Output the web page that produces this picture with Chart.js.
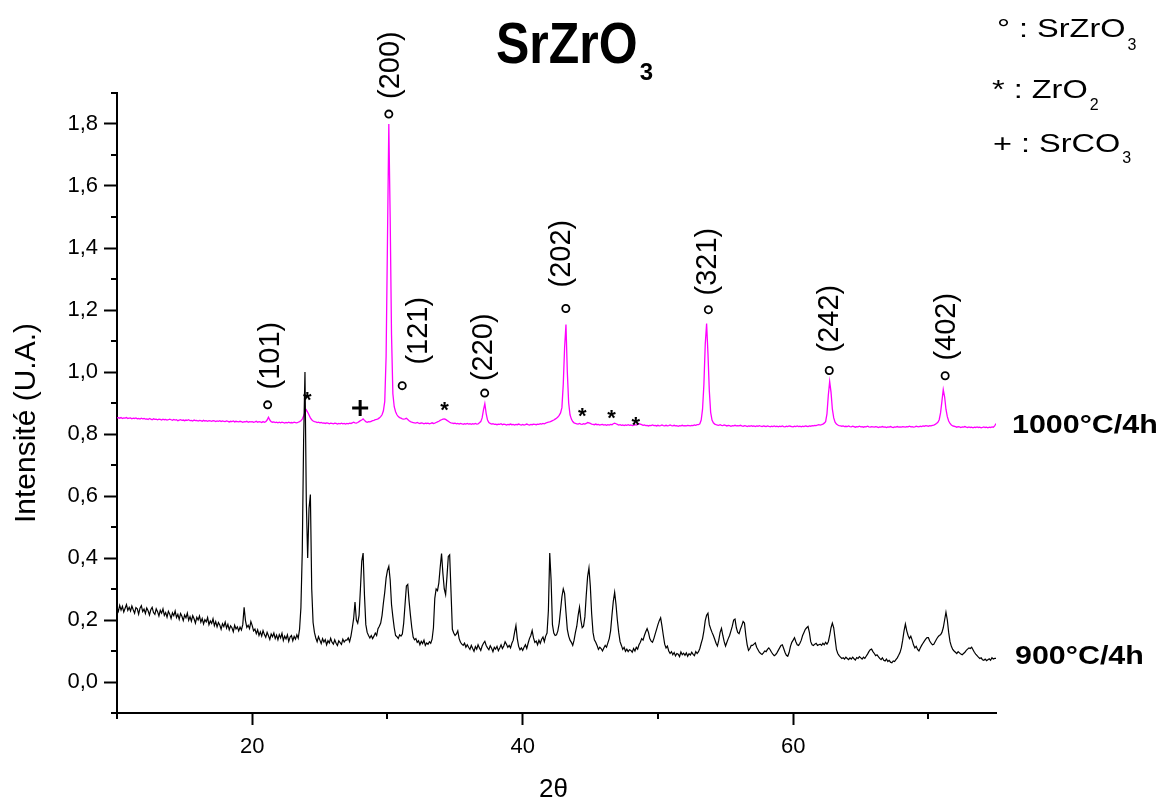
<!DOCTYPE html>
<html lang="fr">
<head>
<meta charset="UTF-8" />
<title>SrZrO3 - DRX</title>
<script src="https://cdn.jsdelivr.net/npm/chart.js"></script>
<style>
  html, body { margin: 0; padding: 0; background: #fff; }
  #wrap { width: 1169px; height: 805px; }
</style>
</head>
<body>
<div id="wrap"><canvas id="xrdChart" width="1169" height="805"></canvas></div>
<script>
// 2θ grid of both scans (degrees)
const angleStart = 10;
const angleStep = 0.1;

// 900°C/4h scan, one row per degree (10.0 ... 10.9, 11.0 ...)
const intensity900 = [
  0.240, 0.228, 0.247, 0.232, 0.244, 0.226, 0.238, 0.250, 0.231, 0.241,
  0.229, 0.245, 0.233, 0.222, 0.240, 0.236, 0.219, 0.238, 0.246, 0.227,
  0.235, 0.221, 0.239, 0.230, 0.216, 0.233, 0.241, 0.224, 0.218, 0.236,
  0.227, 0.213, 0.231, 0.222, 0.236, 0.215, 0.224, 0.209, 0.228, 0.219,
  0.205, 0.223, 0.214, 0.229, 0.208, 0.218, 0.202, 0.221, 0.212, 0.198,
  0.216, 0.207, 0.222, 0.199, 0.211, 0.196, 0.214, 0.204, 0.190, 0.209,
  0.200, 0.213, 0.193, 0.205, 0.187, 0.201, 0.194, 0.208, 0.185, 0.197,
  0.189, 0.204, 0.182, 0.195, 0.178, 0.192, 0.184, 0.170, 0.188, 0.179,
  0.193, 0.174, 0.186, 0.168, 0.181, 0.175, 0.162, 0.183, 0.171, 0.178,
  0.165, 0.177, 0.168, 0.185, 0.241, 0.198, 0.176, 0.183, 0.172, 0.195,
  0.182, 0.165, 0.171, 0.156, 0.168, 0.150, 0.162, 0.148, 0.166, 0.153,
  0.144, 0.160, 0.149, 0.137, 0.155, 0.146, 0.158, 0.140, 0.151, 0.136,
  0.153, 0.142, 0.157, 0.134, 0.148, 0.139, 0.152, 0.131, 0.145, 0.150,
  0.133, 0.147, 0.138, 0.152, 0.141, 0.170, 0.240, 0.420, 0.780, 1.000,
  0.580, 0.400, 0.560, 0.605, 0.300, 0.192, 0.160, 0.142, 0.130, 0.146,
  0.135, 0.124, 0.140, 0.129, 0.137, 0.120, 0.133, 0.126, 0.141, 0.128,
  0.122, 0.136, 0.125, 0.118, 0.133, 0.127, 0.121, 0.138, 0.129, 0.135,
  0.135, 0.142, 0.130, 0.148, 0.175, 0.205, 0.258, 0.200, 0.190, 0.215,
  0.300, 0.390, 0.416, 0.280, 0.185, 0.160, 0.150, 0.142, 0.150, 0.140,
  0.148, 0.158, 0.150, 0.172, 0.180, 0.190, 0.215, 0.255, 0.290, 0.335,
  0.360, 0.373, 0.330, 0.250, 0.210, 0.175, 0.150, 0.146, 0.140, 0.152,
  0.148, 0.155, 0.190, 0.250, 0.310, 0.315, 0.260, 0.215, 0.175, 0.145,
  0.136, 0.140, 0.128, 0.133, 0.120, 0.131, 0.124, 0.135, 0.118, 0.126,
  0.122, 0.130, 0.125, 0.138, 0.175, 0.270, 0.300, 0.295, 0.320, 0.370,
  0.414, 0.350, 0.300, 0.282, 0.340, 0.405, 0.410, 0.290, 0.170, 0.158,
  0.150, 0.155, 0.165, 0.140, 0.128, 0.122, 0.118, 0.125, 0.112, 0.120,
  0.112, 0.105, 0.118, 0.108, 0.099, 0.114, 0.106, 0.120, 0.110, 0.102,
  0.116, 0.125, 0.131, 0.118, 0.110, 0.104, 0.117, 0.109, 0.098, 0.112,
  0.106, 0.115, 0.101, 0.110, 0.120, 0.108, 0.116, 0.130, 0.122, 0.112,
  0.118, 0.110, 0.125, 0.135, 0.160, 0.182, 0.140, 0.115, 0.104, 0.110,
  0.102, 0.112, 0.120, 0.108, 0.125, 0.140, 0.150, 0.166, 0.142, 0.128,
  0.132, 0.120, 0.135, 0.125, 0.138, 0.145, 0.130, 0.148, 0.158, 0.230,
  0.416, 0.330, 0.185, 0.158, 0.150, 0.152, 0.165, 0.190, 0.232, 0.275,
  0.300, 0.285, 0.225, 0.170, 0.148, 0.135, 0.128, 0.118, 0.135, 0.160,
  0.180, 0.215, 0.241, 0.200, 0.175, 0.180, 0.210, 0.280, 0.340, 0.368,
  0.310, 0.220, 0.160, 0.136, 0.128, 0.118, 0.105, 0.112, 0.108, 0.100,
  0.110, 0.118, 0.112, 0.126, 0.140, 0.165, 0.215, 0.260, 0.289, 0.250,
  0.200, 0.160, 0.130, 0.118, 0.105, 0.112, 0.099, 0.106, 0.098, 0.104,
  0.102, 0.096, 0.108, 0.100, 0.112, 0.106, 0.120, 0.128, 0.140, 0.135,
  0.150, 0.162, 0.172, 0.160, 0.140, 0.132, 0.128, 0.140, 0.155, 0.170,
  0.185, 0.198, 0.207, 0.180, 0.150, 0.122, 0.110, 0.116, 0.100, 0.092,
  0.098, 0.088, 0.095, 0.084, 0.092, 0.090, 0.082, 0.097, 0.088, 0.093,
  0.086, 0.094, 0.083, 0.091, 0.087, 0.096, 0.089, 0.085, 0.098, 0.092,
  0.098, 0.108, 0.125, 0.140, 0.165, 0.198, 0.215, 0.222, 0.185, 0.172,
  0.160, 0.150, 0.138, 0.125, 0.116, 0.135, 0.160, 0.173, 0.150, 0.130,
  0.116, 0.128, 0.140, 0.150, 0.165, 0.180, 0.200, 0.203, 0.175, 0.160,
  0.156, 0.170, 0.182, 0.195, 0.190, 0.150, 0.120, 0.102, 0.108, 0.118,
  0.118, 0.122, 0.126, 0.112, 0.104, 0.096, 0.092, 0.089, 0.094, 0.100,
  0.098, 0.105, 0.110, 0.104, 0.096, 0.090, 0.085, 0.088, 0.094, 0.102,
  0.110, 0.118, 0.120, 0.108, 0.095, 0.086, 0.083, 0.095, 0.115, 0.128,
  0.135, 0.143, 0.130, 0.120, 0.118, 0.125, 0.135, 0.150, 0.160, 0.170,
  0.175, 0.179, 0.160, 0.130, 0.120, 0.118, 0.122, 0.125, 0.118, 0.120,
  0.122, 0.118, 0.125, 0.120, 0.128, 0.122, 0.130, 0.150, 0.175, 0.190,
  0.175, 0.140, 0.105, 0.092, 0.085, 0.080, 0.076, 0.078, 0.074, 0.080,
  0.076, 0.072, 0.078, 0.074, 0.080, 0.075, 0.071, 0.079, 0.076, 0.082,
  0.078, 0.074, 0.080, 0.076, 0.083, 0.090, 0.098, 0.104, 0.106, 0.098,
  0.092, 0.085, 0.088, 0.082, 0.076, 0.072, 0.078, 0.070, 0.068, 0.074,
  0.066, 0.070, 0.064, 0.062, 0.068, 0.066, 0.072, 0.078, 0.086, 0.095,
  0.110, 0.135, 0.165, 0.187, 0.165, 0.150, 0.140, 0.148, 0.135, 0.120,
  0.110, 0.115, 0.105, 0.100, 0.110, 0.118, 0.125, 0.132, 0.138, 0.143,
  0.143, 0.132, 0.125, 0.120, 0.122, 0.130, 0.138, 0.145, 0.150, 0.152,
  0.160, 0.175, 0.200, 0.225, 0.200, 0.160, 0.130, 0.115, 0.105, 0.100,
  0.096, 0.092, 0.098, 0.094, 0.090, 0.088, 0.092, 0.096, 0.102, 0.106,
  0.110, 0.108, 0.112, 0.104, 0.096, 0.090, 0.085, 0.080, 0.076, 0.078,
  0.072, 0.070, 0.074, 0.069, 0.072, 0.075, 0.070, 0.078, 0.074, 0.076,
  0.076
];

// 1000°C/4h scan, same grid
const intensity1000 = [
  0.852, 0.853, 0.851, 0.853, 0.850, 0.852, 0.851, 0.853, 0.850, 0.851,
  0.852, 0.849, 0.851, 0.850, 0.852, 0.849, 0.850, 0.848, 0.851, 0.849,
  0.850, 0.848, 0.849, 0.847, 0.850, 0.848, 0.846, 0.849, 0.847, 0.848,
  0.846, 0.848, 0.847, 0.845, 0.848, 0.846, 0.847, 0.845, 0.846, 0.848,
  0.846, 0.844, 0.847, 0.845, 0.846, 0.843, 0.845, 0.846, 0.844, 0.845,
  0.843, 0.845, 0.844, 0.846, 0.843, 0.844, 0.842, 0.845, 0.843, 0.844,
  0.842, 0.844, 0.843, 0.841, 0.844, 0.842, 0.843, 0.841, 0.843, 0.842,
  0.841, 0.843, 0.842, 0.840, 0.842, 0.841, 0.843, 0.840, 0.842, 0.841,
  0.840, 0.842, 0.841, 0.839, 0.841, 0.840, 0.842, 0.839, 0.841, 0.840,
  0.839, 0.841, 0.840, 0.838, 0.840, 0.839, 0.841, 0.838, 0.840, 0.839,
  0.840, 0.838, 0.839, 0.841, 0.838, 0.840, 0.839, 0.837, 0.840, 0.838,
  0.840, 0.845, 0.854, 0.845, 0.840, 0.838, 0.839, 0.837, 0.838, 0.836,
  0.838, 0.836, 0.838, 0.837, 0.835, 0.837, 0.836, 0.838, 0.836, 0.837,
  0.836, 0.838, 0.837, 0.836, 0.838, 0.840, 0.843, 0.848, 0.858, 0.870,
  0.878, 0.870, 0.861, 0.852, 0.846, 0.842, 0.840, 0.839, 0.837, 0.838,
  0.836, 0.837, 0.835, 0.836, 0.834, 0.836, 0.835, 0.833, 0.835, 0.834,
  0.833, 0.835, 0.834, 0.832, 0.834, 0.833, 0.835, 0.833, 0.834, 0.832,
  0.834, 0.833, 0.835, 0.834, 0.836, 0.838, 0.836, 0.835, 0.837, 0.840,
  0.843, 0.845, 0.849, 0.844, 0.840, 0.838, 0.840, 0.839, 0.841, 0.843,
  0.844, 0.846, 0.847, 0.849, 0.852, 0.856, 0.862, 0.875, 0.905, 1.050,
  1.420, 1.800, 1.500, 1.120, 0.930, 0.888, 0.872, 0.862, 0.856, 0.853,
  0.851, 0.849, 0.848, 0.849, 0.851, 0.847, 0.843, 0.840, 0.838, 0.837,
  0.836, 0.835, 0.837, 0.835, 0.834, 0.836, 0.835, 0.833, 0.835, 0.834,
  0.835, 0.833, 0.834, 0.836, 0.834, 0.835, 0.837, 0.839, 0.841, 0.844,
  0.846, 0.848, 0.849, 0.847, 0.844, 0.841, 0.838, 0.836, 0.835, 0.834,
  0.835, 0.833, 0.834, 0.832, 0.834, 0.833, 0.831, 0.833, 0.832, 0.834,
  0.832, 0.833, 0.831, 0.833, 0.832, 0.834, 0.832, 0.833, 0.836, 0.840,
  0.852, 0.878, 0.898, 0.866, 0.845, 0.837, 0.834, 0.832, 0.833, 0.831,
  0.832, 0.830, 0.832, 0.831, 0.833, 0.830, 0.832, 0.831, 0.829, 0.831,
  0.830, 0.832, 0.830, 0.831, 0.829, 0.831, 0.830, 0.832, 0.830, 0.829,
  0.831, 0.829, 0.830, 0.832, 0.830, 0.829, 0.831, 0.830, 0.832, 0.831,
  0.830, 0.832, 0.831, 0.833, 0.832, 0.834, 0.833, 0.835, 0.837, 0.838,
  0.839, 0.841, 0.843, 0.845, 0.848, 0.851, 0.855, 0.860, 0.868, 0.885,
  0.960, 1.080, 1.153, 1.000, 0.900, 0.862, 0.848, 0.840, 0.836, 0.834,
  0.833, 0.832, 0.834, 0.832, 0.831, 0.833, 0.832, 0.834, 0.837, 0.836,
  0.834, 0.832, 0.831, 0.830, 0.832, 0.830, 0.831, 0.829, 0.830, 0.831,
  0.829, 0.830, 0.828, 0.830, 0.829, 0.831, 0.830, 0.833, 0.835, 0.833,
  0.831, 0.829, 0.830, 0.828, 0.829, 0.827, 0.829, 0.828, 0.830, 0.828,
  0.829, 0.827, 0.828, 0.830, 0.829, 0.831, 0.833, 0.832, 0.830, 0.828,
  0.829, 0.827, 0.828, 0.826, 0.828, 0.827, 0.829, 0.827, 0.828, 0.826,
  0.828, 0.826, 0.827, 0.829, 0.827, 0.826, 0.828, 0.826, 0.827, 0.829,
  0.827, 0.826, 0.828, 0.826, 0.827, 0.825, 0.827, 0.826, 0.828, 0.826,
  0.827, 0.826, 0.828, 0.827, 0.826, 0.828, 0.827, 0.829, 0.828, 0.830,
  0.830, 0.833, 0.845, 0.880, 0.960, 1.090, 1.156, 1.060, 0.940, 0.870,
  0.845, 0.836, 0.832, 0.830, 0.829, 0.828, 0.830, 0.828, 0.827, 0.829,
  0.828, 0.826, 0.828, 0.827, 0.825, 0.827, 0.826, 0.828, 0.826, 0.827,
  0.826, 0.828, 0.826, 0.825, 0.827, 0.826, 0.824, 0.826, 0.825, 0.827,
  0.825, 0.826, 0.824, 0.826, 0.825, 0.827, 0.825, 0.824, 0.826, 0.825,
  0.824, 0.826, 0.825, 0.823, 0.825, 0.824, 0.826, 0.824, 0.825, 0.823,
  0.825, 0.824, 0.826, 0.824, 0.823, 0.825, 0.824, 0.826, 0.825, 0.824,
  0.823, 0.825, 0.824, 0.826, 0.824, 0.825, 0.823, 0.825, 0.824, 0.826,
  0.825, 0.824, 0.826, 0.825, 0.827, 0.826, 0.828, 0.827, 0.829, 0.830,
  0.829, 0.830, 0.832, 0.835, 0.840, 0.865, 0.925, 0.969, 0.935, 0.880,
  0.852, 0.838, 0.832, 0.829, 0.827, 0.826, 0.825, 0.826, 0.824, 0.825,
  0.824, 0.826, 0.824, 0.823, 0.825, 0.824, 0.822, 0.824, 0.823, 0.825,
  0.823, 0.824, 0.822, 0.824, 0.823, 0.825, 0.823, 0.822, 0.824, 0.823,
  0.822, 0.824, 0.823, 0.821, 0.823, 0.822, 0.824, 0.822, 0.823, 0.821,
  0.823, 0.822, 0.824, 0.822, 0.821, 0.823, 0.822, 0.824, 0.822, 0.823,
  0.822, 0.824, 0.823, 0.822, 0.824, 0.823, 0.825, 0.823, 0.824, 0.822,
  0.823, 0.825, 0.824, 0.823, 0.825, 0.824, 0.826, 0.825, 0.827, 0.826,
  0.825, 0.827, 0.826, 0.828, 0.829, 0.831, 0.834, 0.838, 0.846, 0.868,
  0.905, 0.943, 0.920, 0.880, 0.856, 0.842, 0.834, 0.829, 0.826, 0.825,
  0.824, 0.822, 0.824, 0.823, 0.821, 0.823, 0.822, 0.824, 0.822, 0.821,
  0.823, 0.821, 0.822, 0.820, 0.822, 0.821, 0.823, 0.821, 0.822, 0.820,
  0.821, 0.823, 0.821, 0.822, 0.820, 0.822, 0.821, 0.823, 0.822, 0.826,
  0.834
];

const xMin = 10, xMax = 75;
const yMin = -0.1, yMax = 1.9;
const xTicks = [20, 40, 60];
const xMinorTicks = [10, 30, 50, 70];
const yTicks = [0, 0.2, 0.4, 0.6, 0.8, 1.0, 1.2, 1.4, 1.6, 1.8];
const yMinorTicks = [-0.1, 0.1, 0.3, 0.5, 0.7, 0.9, 1.1, 1.3, 1.5, 1.7, 1.9];

// SrZrO3 reflections: circle mark and (hkl) label
const hklLabels = ['(101)', '(200)', '(121)', '(220)', '(202)', '(321)', '(242)', '(402)'];
const hklMarkAngles = [21.14, 30.10, 31.09, 37.19, 43.19, 53.73, 62.67, 71.24];
const hklMarkLevels = [0.894, 1.832, 0.956, 0.932, 1.205, 1.201, 1.005, 0.988];
const hklTextAngles = [21.39, 30.28, 32.35, 37.13, 42.94, 53.68, 62.72, 71.35];
const hklTextLevels = [1.053, 1.99, 1.133, 1.08, 1.382, 1.356, 1.172, 1.146];

// ZrO2 (*) and SrCO3 (+) reflections
const zro2Angles = [24.07, 34.22, 44.40, 46.57, 48.37];
const zro2Levels = [0.927, 0.895, 0.875, 0.868, 0.848];
const srco3Angles = [27.98];
const srco3Levels = [0.884];

// curve names written at the right end
const curveNames = ['1000°C/4h', '900°C/4h'];
const curveNameLevels = [0.803, 0.057];

const FONT = "'Liberation Sans', Arial, Helvetica, sans-serif";

function toPoints(values) {
  return values.map((v, i) => ({ x: +(angleStart + i * angleStep).toFixed(1), y: v }));
}

// text with optional horizontal / vertical stretch, returns drawn width
function drawText(ctx, text, x, y, font, sx = 1, sy = 1, align = 'left') {
  ctx.save();
  ctx.translate(x, y);
  ctx.scale(sx, sy);
  ctx.font = font;
  ctx.textAlign = align;
  ctx.textBaseline = 'alphabetic';
  ctx.fillText(text, 0, 0);
  const w = ctx.measureText(text).width * sx;
  ctx.restore();
  return w;
}

function drawFormula(ctx, main, sub, x, base, subBase, font, subFont, sx, sy) {
  const w = drawText(ctx, main, x, base, font, sx, sy);
  drawText(ctx, sub, x + w + 2, subBase, subFont, 1, 1);
}

const decorations = {
  id: 'decorations',
  afterDraw(chart) {
    const { ctx, chartArea: area, scales: { x, y } } = chart;
    ctx.save();
    ctx.strokeStyle = '#000';
    ctx.fillStyle = '#000';

    // minor ticks
    ctx.lineWidth = 2;
    ctx.beginPath();
    yMinorTicks.forEach(v => {
      const py = Math.round(y.getPixelForValue(v));
      ctx.moveTo(area.left - 6, py);
      ctx.lineTo(area.left, py);
    });
    xMinorTicks.forEach(v => {
      const px = Math.round(x.getPixelForValue(v));
      ctx.moveTo(px, area.bottom);
      ctx.lineTo(px, area.bottom + 6);
    });
    ctx.stroke();

    // circles + rotated (hkl)
    ctx.lineWidth = 1.8;
    hklLabels.forEach((label, i) => {
      const cx = x.getPixelForValue(hklMarkAngles[i]);
      const cy = y.getPixelForValue(hklMarkLevels[i]);
      ctx.beginPath();
      ctx.arc(cx, cy, 3.6, 0, Math.PI * 2);
      ctx.stroke();

      const tx = x.getPixelForValue(hklTextAngles[i]);
      const ty = y.getPixelForValue(hklTextLevels[i]);
      ctx.save();
      ctx.translate(tx, ty);
      ctx.rotate(-Math.PI / 2);
      ctx.font = '29px ' + FONT;
      ctx.textAlign = 'center';
      ctx.textBaseline = 'middle';
      ctx.fillText(label, 0, 0);
      ctx.restore();
    });

    // ZrO2 asterisks
    ctx.font = 'bold 22px ' + FONT;
    ctx.textAlign = 'center';
    ctx.textBaseline = 'alphabetic';
    zro2Angles.forEach((a, i) => {
      const px = x.getPixelForValue(a);
      const py = y.getPixelForValue(zro2Levels[i]);
      ctx.fillText('*', px, py + 0.57 * 22);
    });

    // SrCO3 plus
    ctx.lineWidth = 3;
    ctx.beginPath();
    srco3Angles.forEach((a, i) => {
      const px = x.getPixelForValue(a);
      const py = y.getPixelForValue(srco3Levels[i]);
      ctx.moveTo(px - 8, py); ctx.lineTo(px + 8, py);
      ctx.moveTo(px, py - 8); ctx.lineTo(px, py + 8);
    });
    ctx.stroke();

    // curve names
    curveNames.forEach((name, i) => {
      const py = y.getPixelForValue(curveNameLevels[i]);
      drawText(ctx, name, area.right + (i === 0 ? 16 : 19), py, 'bold 26px ' + FONT, 1.17, 1);
    });

    // title SrZrO3
    drawFormula(ctx, 'SrZrO', '3', 496, 63, 80, 'bold 50px ' + FONT, 'bold 24px ' + FONT, 1, 1.13);

    // phase key
    const keyFont = '26px ' + FONT, keySub = '16px ' + FONT;
    drawFormula(ctx, '° : SrZrO', '3', 997, 37, 50, keyFont, keySub, 1.25, 1);
    drawFormula(ctx, '* : ZrO', '2', 992, 98, 110, keyFont, keySub, 1.25, 1);
    drawFormula(ctx, '+ : SrCO', '3', 993, 152, 163, keyFont, keySub, 1.25, 1);

    // axis titles
    ctx.save();
    ctx.translate(27, (area.top + area.bottom) / 2 + 20);
    ctx.rotate(-Math.PI / 2);
    ctx.font = '30px ' + FONT;
    ctx.textAlign = 'center';
    ctx.textBaseline = 'middle';
    ctx.fillText('Intensité (U.A.)', 0, 0);
    ctx.restore();

    ctx.font = '26px ' + FONT;
    ctx.textAlign = 'center';
    ctx.textBaseline = 'middle';
    ctx.fillText('2θ', (area.left + area.right) / 2 - 3, 790);

    ctx.restore();
  }
};

Chart.defaults.font.family = FONT;
Chart.defaults.color = '#000';

new Chart(document.getElementById('xrdChart'), {
  type: 'line',
  data: {
    datasets: [
      {
        label: '900°C/4h',
        data: toPoints(intensity900),
        borderColor: '#000000',
        borderWidth: 1.2,
        pointRadius: 0,
        tension: 0
      },
      {
        label: '1000°C/4h',
        data: toPoints(intensity1000),
        borderColor: '#ff00ff',
        borderWidth: 1.3,
        pointRadius: 0,
        tension: 0
      }
    ]
  },
  options: {
    responsive: false,
    animation: false,
    devicePixelRatio: 1,
    layout: { padding: { left: 0, top: 93, right: 173, bottom: 0 } },
    plugins: {
      legend: { display: false },
      tooltip: { enabled: false },
      title: { display: false }
    },
    scales: {
      x: {
        type: 'linear',
        min: xMin,
        max: xMax,
        afterBuildTicks: s => { s.ticks = xTicks.map(v => ({ value: v })); },
        afterFit: s => { s.height = 92; },
        border: { display: true, color: '#000', width: 2 },
        grid: { drawOnChartArea: false, drawTicks: true, tickLength: 12, tickWidth: 2, tickColor: '#000' },
        ticks: { padding: 9, font: { size: 22 }, maxRotation: 0 }
      },
      y: {
        type: 'linear',
        min: yMin,
        max: yMax,
        afterBuildTicks: s => { s.ticks = yTicks.map(v => ({ value: v })); },
        afterFit: s => { s.width = 117; },
        border: { display: true, color: '#000', width: 2 },
        grid: { drawOnChartArea: false, drawTicks: true, tickLength: 13, tickWidth: 2, tickColor: '#000' },
        ticks: {
          padding: 6,
          font: { size: 22 },
          callback: v => v.toFixed(1).replace('.', ',')
        }
      }
    }
  },
  plugins: [decorations]
});
</script>
</body>
</html>
